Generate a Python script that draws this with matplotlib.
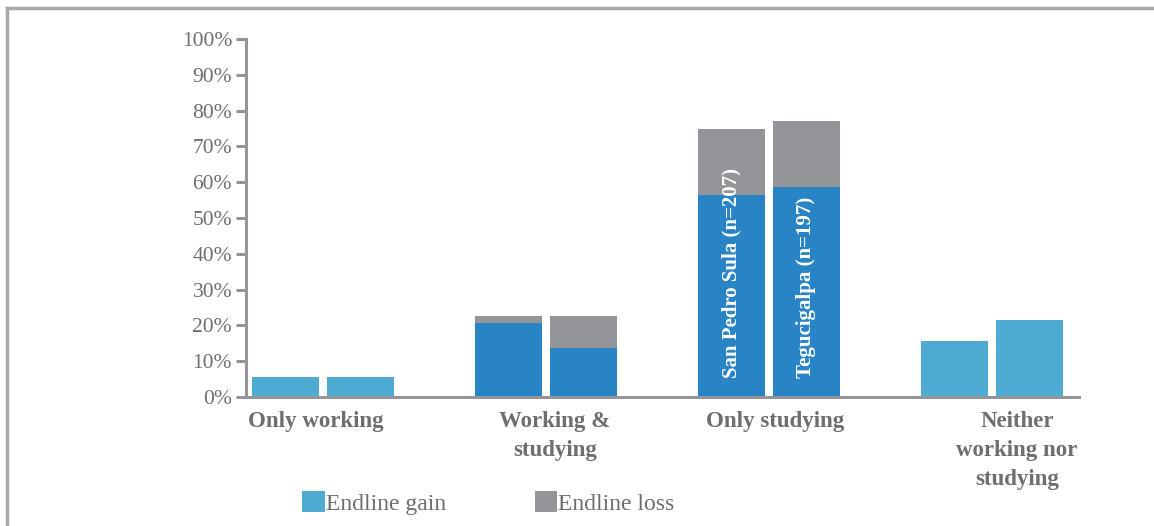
import matplotlib
matplotlib.use("Agg")
import matplotlib.pyplot as plt
from matplotlib.patches import Patch
from matplotlib.lines import Line2D
import numpy as np

categories = ["Only working", "Working &\nstudying", "Only studying", "Neither\nworking nor\nstudying"]
sps_gain = [5.6, 20.8, 56.4, 15.6]
sps_loss = [0.0, 1.7, 18.5, 0.0]
teg_gain = [5.6, 13.8, 58.7, 21.5]
teg_loss = [0.0, 8.7, 18.4, 0.0]
city_labels = ["San Pedro Sula (n=207)", "Tegucigalpa (n=197)"]
yticks = list(range(0, 101, 10))
ytick_labels = [f"{v}%" for v in yticks]

LIGHT = "#50ABD2"
DARK = "#2884C5"
GRAY = "#939598"
TEXT = "#6D6E71"
SPINE = "#939598"

plt.rcParams['font.family'] = ['Liberation Serif', 'DejaVu Serif']

fig = plt.figure(figsize=(11.54, 5.26), dpi=100)
ax = fig.add_axes([246/1154, 1-397/526, (1079-246)/1154, (397-39)/526])

x = np.arange(len(categories))
w = 0.30
off = 0.168
gain_colors = [LIGHT, DARK, DARK, LIGHT]

ax.bar(x - off, sps_gain, width=w, color=gain_colors, zorder=2)
ax.bar(x - off, sps_loss, width=w, bottom=sps_gain, color=GRAY, zorder=2)
ax.bar(x + off, teg_gain, width=w, color=gain_colors, zorder=2)
ax.bar(x + off, teg_loss, width=w, bottom=teg_gain, color=GRAY, zorder=2)

ax.text(x[2] - off, 5.3, city_labels[0], rotation=90, ha='center', va='bottom',
        color='white', fontsize=15, fontweight='bold', zorder=3)
ax.text(x[2] + off, 5.3, city_labels[1], rotation=90, ha='center', va='bottom',
        color='white', fontsize=15, fontweight='bold', zorder=3)

ax.set_xlim(-0.345, 3.39)
ax.set_ylim(0, 100)
ax.set_yticks(yticks)
ax.set_yticklabels(ytick_labels, fontsize=15.5, color=TEXT)
ax.tick_params(axis='y', direction='out', length=7, width=2.2, color=SPINE, pad=3)
ax.set_xticks([])
for s in ['top', 'right']:
    ax.spines[s].set_visible(False)
for s in ['left', 'bottom']:
    ax.spines[s].set_color(SPINE)
    ax.spines[s].set_linewidth(2.2)

label_x = [316, 555, 775, 1017]
for lx, lab in zip(label_x, categories):
    fig.text(lx/1154, 1-411/526, lab, ha='center', va='top', fontsize=16.5,
             fontweight='bold', color=TEXT, linespacing=1.5)

handles = [Patch(facecolor=LIGHT), Patch(facecolor=GRAY)]
fig.legend(handles, ["Endline gain", "Endline loss"], loc='center left',
           bbox_to_anchor=(281/1154, 1-503/526), ncol=2, frameon=False,
           fontsize=17, handlelength=0.95, handleheight=0.95, handletextpad=0.05,
           columnspacing=3.75, labelcolor=TEXT)

# frame lines around figure (top and left)
fig.add_artist(Line2D([7/1154, 1], [1-8/526, 1-8/526], color="#A7A9AC", lw=2.5,
                      transform=fig.transFigure))
fig.add_artist(Line2D([7/1154, 7/1154], [0, 1-8/526], color="#A7A9AC", lw=2.5,
                      transform=fig.transFigure))

fig.savefig("out.png", dpi=100)
